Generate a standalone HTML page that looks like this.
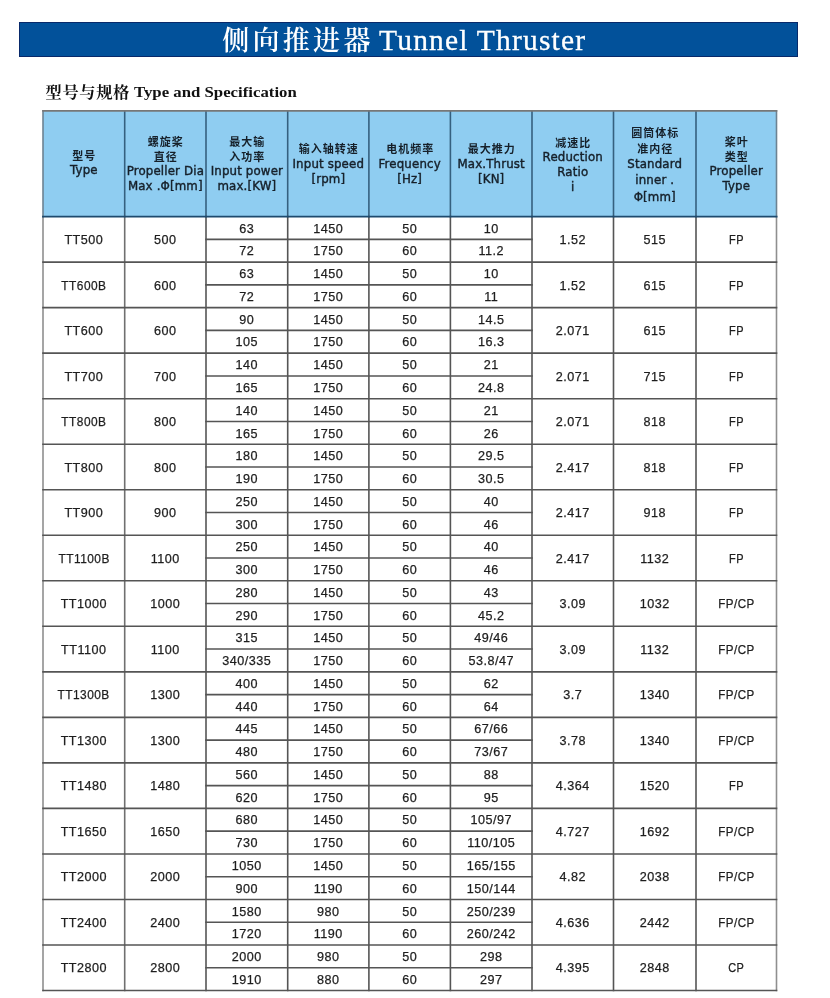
<!DOCTYPE html>
<html><head><meta charset="utf-8"><title>侧向推进器 Tunnel Thruster</title>
<style>
*{margin:0;padding:0;box-sizing:border-box}
html,body{width:830px;height:998px;overflow:hidden;background:#fff}
body{position:relative;font-family:"Liberation Sans","Noto Sans CJK SC",sans-serif;color:#1e1e1e}
.banner{position:absolute;left:18.5px;top:21.5px;width:779.6px;height:35.4px;background:#02519a;border:1.2px solid #08296a}
.t{position:absolute;white-space:nowrap;line-height:1}
.tc{left:222.2px;top:28.2px;color:#fff;font-family:"Liberation Serif","Noto Serif CJK SC",serif;font-weight:600;font-size:27px;letter-spacing:3.3px}
.tl{left:379px;top:25.5px;color:#fff;font-family:"Liberation Serif",serif;font-size:29.5px;letter-spacing:1.2px;-webkit-text-stroke:0.3px #fff}
.sc{left:45.5px;top:85px;color:#111;font-family:"Liberation Serif","Noto Serif CJK SC",serif;font-weight:700;font-size:16.2px;letter-spacing:0.7px}
.sl{left:134px;top:85.2px;color:#111;font-family:"Liberation Serif",serif;font-weight:700;font-size:15px;letter-spacing:0;transform:scaleX(1.118);transform-origin:0 0}
.hbg{position:absolute;background:#8fcdf1}
.c{position:absolute;display:flex;align-items:center;justify-content:center;text-align:center;white-space:nowrap;font-size:12.6px;letter-spacing:0.5px;line-height:14px;-webkit-text-stroke:0.25px #1e1e1e}
.h{position:absolute;display:flex;flex-direction:column;align-items:center;justify-content:center;text-align:center;white-space:nowrap;font-family:"DejaVu Sans","Noto Sans CJK SC",sans-serif;font-size:11.8px;letter-spacing:0.15px;color:#16202a;-webkit-text-stroke:0.4px #16202a}
.h span{display:block;height:15.2px;line-height:15.2px}
.h span.z{position:relative;top:1px;font-family:"Liberation Sans","Noto Sans CJK SC",sans-serif;font-size:11px;font-weight:700;letter-spacing:1px;text-indent:1px;-webkit-text-stroke:0}
.h.c8 span{height:16.2px;line-height:16.2px}
svg{position:absolute;left:0;top:0}
</style></head><body>
<div class="banner"></div>
<div class="t tc">侧向推进器</div>
<div class="t tl">Tunnel Thruster</div>
<div class="t sc">型号与规格</div>
<div class="t sl">Type and Specification</div>

<div class="hbg" style="left:43px;top:110.9px;width:733.5px;height:105.7px"></div>
<div class="h" style="left:43px;top:110.2px;width:81.7px;height:105.7px"><span class="z">型号</span><span class="">Type</span></div>
<div class="h" style="left:124.7px;top:111.4px;width:81.3px;height:105.7px"><span class="z">螺旋桨</span><span class="z">直径</span><span class="">Propeller Dia</span><span class="">Max .Φ[mm]</span></div>
<div class="h" style="left:206px;top:111.4px;width:81.7px;height:105.7px"><span class="z">最大输</span><span class="z">入功率</span><span class="">Input power</span><span class="">max.[KW]</span></div>
<div class="h" style="left:287.7px;top:111.4px;width:81.2px;height:105.7px"><span class="z">输入轴转速</span><span class="">Input speed</span><span class="">[rpm]</span></div>
<div class="h" style="left:368.9px;top:111.4px;width:81.5px;height:105.7px"><span class="z">电机频率</span><span class="">Frequency</span><span class="">[Hz]</span></div>
<div class="h" style="left:450.4px;top:111.4px;width:81.6px;height:105.7px"><span class="z">最大推力</span><span class="">Max.Thrust</span><span class="">[KN]</span></div>
<div class="h" style="left:532px;top:112.2px;width:81.5px;height:105.7px"><span class="z">减速比</span><span class="">Reduction</span><span class="">Ratio</span><span class="">i</span></div>
<div class="h c8" style="left:613.5px;top:111.4px;width:82.5px;height:105.7px"><span class="z">圆筒体标</span><span class="z">准内径</span><span class="">Standard</span><span class="">inner .</span><span class="">Φ[mm]</span></div>
<div class="h" style="left:696px;top:111.4px;width:80.5px;height:105.7px"><span class="z">桨叶</span><span class="z">类型</span><span class="">Propeller</span><span class="">Type</span></div>
<div class="c" style="left:43.0px;top:217.3px;width:81.7px;height:45.5px">TT500</div>
<div class="c" style="left:124.7px;top:217.3px;width:81.3px;height:45.5px">500</div>
<div class="c" style="left:206.0px;top:217.3px;width:81.7px;height:22.8px">63</div>
<div class="c" style="left:206.0px;top:240.1px;width:81.7px;height:22.8px">72</div>
<div class="c" style="left:287.7px;top:217.3px;width:81.2px;height:22.8px">1450</div>
<div class="c" style="left:287.7px;top:240.1px;width:81.2px;height:22.8px">1750</div>
<div class="c" style="left:368.9px;top:217.3px;width:81.5px;height:22.8px">50</div>
<div class="c" style="left:368.9px;top:240.1px;width:81.5px;height:22.8px">60</div>
<div class="c" style="left:450.4px;top:217.3px;width:81.6px;height:22.8px">10</div>
<div class="c" style="left:450.4px;top:240.1px;width:81.6px;height:22.8px">11.2</div>
<div class="c" style="left:532.0px;top:217.3px;width:81.5px;height:45.5px">1.52</div>
<div class="c" style="left:613.5px;top:217.3px;width:82.5px;height:45.5px">515</div>
<div class="c" style="left:696.0px;top:217.3px;width:80.5px;height:45.5px"><span style="display:inline-block;transform:scaleX(0.87)">FP</span></div>
<div class="c" style="left:43.0px;top:262.8px;width:81.7px;height:45.5px"><span style="display:inline-block;transform:scaleX(0.945)">TT600B</span></div>
<div class="c" style="left:124.7px;top:262.8px;width:81.3px;height:45.5px">600</div>
<div class="c" style="left:206.0px;top:262.8px;width:81.7px;height:22.8px">63</div>
<div class="c" style="left:206.0px;top:285.6px;width:81.7px;height:22.8px">72</div>
<div class="c" style="left:287.7px;top:262.8px;width:81.2px;height:22.8px">1450</div>
<div class="c" style="left:287.7px;top:285.6px;width:81.2px;height:22.8px">1750</div>
<div class="c" style="left:368.9px;top:262.8px;width:81.5px;height:22.8px">50</div>
<div class="c" style="left:368.9px;top:285.6px;width:81.5px;height:22.8px">60</div>
<div class="c" style="left:450.4px;top:262.8px;width:81.6px;height:22.8px">10</div>
<div class="c" style="left:450.4px;top:285.6px;width:81.6px;height:22.8px">11</div>
<div class="c" style="left:532.0px;top:262.8px;width:81.5px;height:45.5px">1.52</div>
<div class="c" style="left:613.5px;top:262.8px;width:82.5px;height:45.5px">615</div>
<div class="c" style="left:696.0px;top:262.8px;width:80.5px;height:45.5px"><span style="display:inline-block;transform:scaleX(0.87)">FP</span></div>
<div class="c" style="left:43.0px;top:308.3px;width:81.7px;height:45.5px">TT600</div>
<div class="c" style="left:124.7px;top:308.3px;width:81.3px;height:45.5px">600</div>
<div class="c" style="left:206.0px;top:308.3px;width:81.7px;height:22.8px">90</div>
<div class="c" style="left:206.0px;top:331.1px;width:81.7px;height:22.8px">105</div>
<div class="c" style="left:287.7px;top:308.3px;width:81.2px;height:22.8px">1450</div>
<div class="c" style="left:287.7px;top:331.1px;width:81.2px;height:22.8px">1750</div>
<div class="c" style="left:368.9px;top:308.3px;width:81.5px;height:22.8px">50</div>
<div class="c" style="left:368.9px;top:331.1px;width:81.5px;height:22.8px">60</div>
<div class="c" style="left:450.4px;top:308.3px;width:81.6px;height:22.8px">14.5</div>
<div class="c" style="left:450.4px;top:331.1px;width:81.6px;height:22.8px">16.3</div>
<div class="c" style="left:532.0px;top:308.3px;width:81.5px;height:45.5px">2.071</div>
<div class="c" style="left:613.5px;top:308.3px;width:82.5px;height:45.5px">615</div>
<div class="c" style="left:696.0px;top:308.3px;width:80.5px;height:45.5px"><span style="display:inline-block;transform:scaleX(0.87)">FP</span></div>
<div class="c" style="left:43.0px;top:353.9px;width:81.7px;height:45.5px">TT700</div>
<div class="c" style="left:124.7px;top:353.9px;width:81.3px;height:45.5px">700</div>
<div class="c" style="left:206.0px;top:353.9px;width:81.7px;height:22.8px">140</div>
<div class="c" style="left:206.0px;top:376.6px;width:81.7px;height:22.8px">165</div>
<div class="c" style="left:287.7px;top:353.9px;width:81.2px;height:22.8px">1450</div>
<div class="c" style="left:287.7px;top:376.6px;width:81.2px;height:22.8px">1750</div>
<div class="c" style="left:368.9px;top:353.9px;width:81.5px;height:22.8px">50</div>
<div class="c" style="left:368.9px;top:376.6px;width:81.5px;height:22.8px">60</div>
<div class="c" style="left:450.4px;top:353.9px;width:81.6px;height:22.8px">21</div>
<div class="c" style="left:450.4px;top:376.6px;width:81.6px;height:22.8px">24.8</div>
<div class="c" style="left:532.0px;top:353.9px;width:81.5px;height:45.5px">2.071</div>
<div class="c" style="left:613.5px;top:353.9px;width:82.5px;height:45.5px">715</div>
<div class="c" style="left:696.0px;top:353.9px;width:80.5px;height:45.5px"><span style="display:inline-block;transform:scaleX(0.87)">FP</span></div>
<div class="c" style="left:43.0px;top:399.4px;width:81.7px;height:45.5px"><span style="display:inline-block;transform:scaleX(0.945)">TT800B</span></div>
<div class="c" style="left:124.7px;top:399.4px;width:81.3px;height:45.5px">800</div>
<div class="c" style="left:206.0px;top:399.4px;width:81.7px;height:22.8px">140</div>
<div class="c" style="left:206.0px;top:422.2px;width:81.7px;height:22.8px">165</div>
<div class="c" style="left:287.7px;top:399.4px;width:81.2px;height:22.8px">1450</div>
<div class="c" style="left:287.7px;top:422.2px;width:81.2px;height:22.8px">1750</div>
<div class="c" style="left:368.9px;top:399.4px;width:81.5px;height:22.8px">50</div>
<div class="c" style="left:368.9px;top:422.2px;width:81.5px;height:22.8px">60</div>
<div class="c" style="left:450.4px;top:399.4px;width:81.6px;height:22.8px">21</div>
<div class="c" style="left:450.4px;top:422.2px;width:81.6px;height:22.8px">26</div>
<div class="c" style="left:532.0px;top:399.4px;width:81.5px;height:45.5px">2.071</div>
<div class="c" style="left:613.5px;top:399.4px;width:82.5px;height:45.5px">818</div>
<div class="c" style="left:696.0px;top:399.4px;width:80.5px;height:45.5px"><span style="display:inline-block;transform:scaleX(0.87)">FP</span></div>
<div class="c" style="left:43.0px;top:444.9px;width:81.7px;height:45.5px">TT800</div>
<div class="c" style="left:124.7px;top:444.9px;width:81.3px;height:45.5px">800</div>
<div class="c" style="left:206.0px;top:444.9px;width:81.7px;height:22.8px">180</div>
<div class="c" style="left:206.0px;top:467.7px;width:81.7px;height:22.8px">190</div>
<div class="c" style="left:287.7px;top:444.9px;width:81.2px;height:22.8px">1450</div>
<div class="c" style="left:287.7px;top:467.7px;width:81.2px;height:22.8px">1750</div>
<div class="c" style="left:368.9px;top:444.9px;width:81.5px;height:22.8px">50</div>
<div class="c" style="left:368.9px;top:467.7px;width:81.5px;height:22.8px">60</div>
<div class="c" style="left:450.4px;top:444.9px;width:81.6px;height:22.8px">29.5</div>
<div class="c" style="left:450.4px;top:467.7px;width:81.6px;height:22.8px">30.5</div>
<div class="c" style="left:532.0px;top:444.9px;width:81.5px;height:45.5px">2.417</div>
<div class="c" style="left:613.5px;top:444.9px;width:82.5px;height:45.5px">818</div>
<div class="c" style="left:696.0px;top:444.9px;width:80.5px;height:45.5px"><span style="display:inline-block;transform:scaleX(0.87)">FP</span></div>
<div class="c" style="left:43.0px;top:490.4px;width:81.7px;height:45.5px">TT900</div>
<div class="c" style="left:124.7px;top:490.4px;width:81.3px;height:45.5px">900</div>
<div class="c" style="left:206.0px;top:490.4px;width:81.7px;height:22.8px">250</div>
<div class="c" style="left:206.0px;top:513.2px;width:81.7px;height:22.8px">300</div>
<div class="c" style="left:287.7px;top:490.4px;width:81.2px;height:22.8px">1450</div>
<div class="c" style="left:287.7px;top:513.2px;width:81.2px;height:22.8px">1750</div>
<div class="c" style="left:368.9px;top:490.4px;width:81.5px;height:22.8px">50</div>
<div class="c" style="left:368.9px;top:513.2px;width:81.5px;height:22.8px">60</div>
<div class="c" style="left:450.4px;top:490.4px;width:81.6px;height:22.8px">40</div>
<div class="c" style="left:450.4px;top:513.2px;width:81.6px;height:22.8px">46</div>
<div class="c" style="left:532.0px;top:490.4px;width:81.5px;height:45.5px">2.417</div>
<div class="c" style="left:613.5px;top:490.4px;width:82.5px;height:45.5px">918</div>
<div class="c" style="left:696.0px;top:490.4px;width:80.5px;height:45.5px"><span style="display:inline-block;transform:scaleX(0.87)">FP</span></div>
<div class="c" style="left:43.0px;top:536.0px;width:81.7px;height:45.5px"><span style="display:inline-block;transform:scaleX(0.945)">TT1100B</span></div>
<div class="c" style="left:124.7px;top:536.0px;width:81.3px;height:45.5px">1100</div>
<div class="c" style="left:206.0px;top:536.0px;width:81.7px;height:22.8px">250</div>
<div class="c" style="left:206.0px;top:558.7px;width:81.7px;height:22.8px">300</div>
<div class="c" style="left:287.7px;top:536.0px;width:81.2px;height:22.8px">1450</div>
<div class="c" style="left:287.7px;top:558.7px;width:81.2px;height:22.8px">1750</div>
<div class="c" style="left:368.9px;top:536.0px;width:81.5px;height:22.8px">50</div>
<div class="c" style="left:368.9px;top:558.7px;width:81.5px;height:22.8px">60</div>
<div class="c" style="left:450.4px;top:536.0px;width:81.6px;height:22.8px">40</div>
<div class="c" style="left:450.4px;top:558.7px;width:81.6px;height:22.8px">46</div>
<div class="c" style="left:532.0px;top:536.0px;width:81.5px;height:45.5px">2.417</div>
<div class="c" style="left:613.5px;top:536.0px;width:82.5px;height:45.5px">1132</div>
<div class="c" style="left:696.0px;top:536.0px;width:80.5px;height:45.5px"><span style="display:inline-block;transform:scaleX(0.87)">FP</span></div>
<div class="c" style="left:43.0px;top:581.5px;width:81.7px;height:45.5px">TT1000</div>
<div class="c" style="left:124.7px;top:581.5px;width:81.3px;height:45.5px">1000</div>
<div class="c" style="left:206.0px;top:581.5px;width:81.7px;height:22.8px">280</div>
<div class="c" style="left:206.0px;top:604.2px;width:81.7px;height:22.8px">290</div>
<div class="c" style="left:287.7px;top:581.5px;width:81.2px;height:22.8px">1450</div>
<div class="c" style="left:287.7px;top:604.2px;width:81.2px;height:22.8px">1750</div>
<div class="c" style="left:368.9px;top:581.5px;width:81.5px;height:22.8px">50</div>
<div class="c" style="left:368.9px;top:604.2px;width:81.5px;height:22.8px">60</div>
<div class="c" style="left:450.4px;top:581.5px;width:81.6px;height:22.8px">43</div>
<div class="c" style="left:450.4px;top:604.2px;width:81.6px;height:22.8px">45.2</div>
<div class="c" style="left:532.0px;top:581.5px;width:81.5px;height:45.5px">3.09</div>
<div class="c" style="left:613.5px;top:581.5px;width:82.5px;height:45.5px">1032</div>
<div class="c" style="left:696.0px;top:581.5px;width:80.5px;height:45.5px"><span style="display:inline-block;transform:scaleX(0.92) translateX(0.8px)">FP/CP</span></div>
<div class="c" style="left:43.0px;top:627.0px;width:81.7px;height:45.5px">TT1100</div>
<div class="c" style="left:124.7px;top:627.0px;width:81.3px;height:45.5px">1100</div>
<div class="c" style="left:206.0px;top:627.0px;width:81.7px;height:22.8px">315</div>
<div class="c" style="left:206.0px;top:649.8px;width:81.7px;height:22.8px">340/335</div>
<div class="c" style="left:287.7px;top:627.0px;width:81.2px;height:22.8px">1450</div>
<div class="c" style="left:287.7px;top:649.8px;width:81.2px;height:22.8px">1750</div>
<div class="c" style="left:368.9px;top:627.0px;width:81.5px;height:22.8px">50</div>
<div class="c" style="left:368.9px;top:649.8px;width:81.5px;height:22.8px">60</div>
<div class="c" style="left:450.4px;top:627.0px;width:81.6px;height:22.8px">49/46</div>
<div class="c" style="left:450.4px;top:649.8px;width:81.6px;height:22.8px">53.8/47</div>
<div class="c" style="left:532.0px;top:627.0px;width:81.5px;height:45.5px">3.09</div>
<div class="c" style="left:613.5px;top:627.0px;width:82.5px;height:45.5px">1132</div>
<div class="c" style="left:696.0px;top:627.0px;width:80.5px;height:45.5px"><span style="display:inline-block;transform:scaleX(0.92) translateX(0.8px)">FP/CP</span></div>
<div class="c" style="left:43.0px;top:672.5px;width:81.7px;height:45.5px"><span style="display:inline-block;transform:scaleX(0.945)">TT1300B</span></div>
<div class="c" style="left:124.7px;top:672.5px;width:81.3px;height:45.5px">1300</div>
<div class="c" style="left:206.0px;top:672.5px;width:81.7px;height:22.8px">400</div>
<div class="c" style="left:206.0px;top:695.3px;width:81.7px;height:22.8px">440</div>
<div class="c" style="left:287.7px;top:672.5px;width:81.2px;height:22.8px">1450</div>
<div class="c" style="left:287.7px;top:695.3px;width:81.2px;height:22.8px">1750</div>
<div class="c" style="left:368.9px;top:672.5px;width:81.5px;height:22.8px">50</div>
<div class="c" style="left:368.9px;top:695.3px;width:81.5px;height:22.8px">60</div>
<div class="c" style="left:450.4px;top:672.5px;width:81.6px;height:22.8px">62</div>
<div class="c" style="left:450.4px;top:695.3px;width:81.6px;height:22.8px">64</div>
<div class="c" style="left:532.0px;top:672.5px;width:81.5px;height:45.5px">3.7</div>
<div class="c" style="left:613.5px;top:672.5px;width:82.5px;height:45.5px">1340</div>
<div class="c" style="left:696.0px;top:672.5px;width:80.5px;height:45.5px"><span style="display:inline-block;transform:scaleX(0.92) translateX(0.8px)">FP/CP</span></div>
<div class="c" style="left:43.0px;top:718.1px;width:81.7px;height:45.5px">TT1300</div>
<div class="c" style="left:124.7px;top:718.1px;width:81.3px;height:45.5px">1300</div>
<div class="c" style="left:206.0px;top:718.1px;width:81.7px;height:22.8px">445</div>
<div class="c" style="left:206.0px;top:740.8px;width:81.7px;height:22.8px">480</div>
<div class="c" style="left:287.7px;top:718.1px;width:81.2px;height:22.8px">1450</div>
<div class="c" style="left:287.7px;top:740.8px;width:81.2px;height:22.8px">1750</div>
<div class="c" style="left:368.9px;top:718.1px;width:81.5px;height:22.8px">50</div>
<div class="c" style="left:368.9px;top:740.8px;width:81.5px;height:22.8px">60</div>
<div class="c" style="left:450.4px;top:718.1px;width:81.6px;height:22.8px">67/66</div>
<div class="c" style="left:450.4px;top:740.8px;width:81.6px;height:22.8px">73/67</div>
<div class="c" style="left:532.0px;top:718.1px;width:81.5px;height:45.5px">3.78</div>
<div class="c" style="left:613.5px;top:718.1px;width:82.5px;height:45.5px">1340</div>
<div class="c" style="left:696.0px;top:718.1px;width:80.5px;height:45.5px"><span style="display:inline-block;transform:scaleX(0.92) translateX(0.8px)">FP/CP</span></div>
<div class="c" style="left:43.0px;top:763.6px;width:81.7px;height:45.5px">TT1480</div>
<div class="c" style="left:124.7px;top:763.6px;width:81.3px;height:45.5px">1480</div>
<div class="c" style="left:206.0px;top:763.6px;width:81.7px;height:22.8px">560</div>
<div class="c" style="left:206.0px;top:786.3px;width:81.7px;height:22.8px">620</div>
<div class="c" style="left:287.7px;top:763.6px;width:81.2px;height:22.8px">1450</div>
<div class="c" style="left:287.7px;top:786.3px;width:81.2px;height:22.8px">1750</div>
<div class="c" style="left:368.9px;top:763.6px;width:81.5px;height:22.8px">50</div>
<div class="c" style="left:368.9px;top:786.3px;width:81.5px;height:22.8px">60</div>
<div class="c" style="left:450.4px;top:763.6px;width:81.6px;height:22.8px">88</div>
<div class="c" style="left:450.4px;top:786.3px;width:81.6px;height:22.8px">95</div>
<div class="c" style="left:532.0px;top:763.6px;width:81.5px;height:45.5px">4.364</div>
<div class="c" style="left:613.5px;top:763.6px;width:82.5px;height:45.5px">1520</div>
<div class="c" style="left:696.0px;top:763.6px;width:80.5px;height:45.5px"><span style="display:inline-block;transform:scaleX(0.87)">FP</span></div>
<div class="c" style="left:43.0px;top:809.1px;width:81.7px;height:45.5px">TT1650</div>
<div class="c" style="left:124.7px;top:809.1px;width:81.3px;height:45.5px">1650</div>
<div class="c" style="left:206.0px;top:809.1px;width:81.7px;height:22.8px">680</div>
<div class="c" style="left:206.0px;top:831.9px;width:81.7px;height:22.8px">730</div>
<div class="c" style="left:287.7px;top:809.1px;width:81.2px;height:22.8px">1450</div>
<div class="c" style="left:287.7px;top:831.9px;width:81.2px;height:22.8px">1750</div>
<div class="c" style="left:368.9px;top:809.1px;width:81.5px;height:22.8px">50</div>
<div class="c" style="left:368.9px;top:831.9px;width:81.5px;height:22.8px">60</div>
<div class="c" style="left:450.4px;top:809.1px;width:81.6px;height:22.8px">105/97</div>
<div class="c" style="left:450.4px;top:831.9px;width:81.6px;height:22.8px">110/105</div>
<div class="c" style="left:532.0px;top:809.1px;width:81.5px;height:45.5px">4.727</div>
<div class="c" style="left:613.5px;top:809.1px;width:82.5px;height:45.5px">1692</div>
<div class="c" style="left:696.0px;top:809.1px;width:80.5px;height:45.5px"><span style="display:inline-block;transform:scaleX(0.92) translateX(0.8px)">FP/CP</span></div>
<div class="c" style="left:43.0px;top:854.6px;width:81.7px;height:45.5px">TT2000</div>
<div class="c" style="left:124.7px;top:854.6px;width:81.3px;height:45.5px">2000</div>
<div class="c" style="left:206.0px;top:854.6px;width:81.7px;height:22.8px">1050</div>
<div class="c" style="left:206.0px;top:877.4px;width:81.7px;height:22.8px">900</div>
<div class="c" style="left:287.7px;top:854.6px;width:81.2px;height:22.8px">1450</div>
<div class="c" style="left:287.7px;top:877.4px;width:81.2px;height:22.8px">1190</div>
<div class="c" style="left:368.9px;top:854.6px;width:81.5px;height:22.8px">50</div>
<div class="c" style="left:368.9px;top:877.4px;width:81.5px;height:22.8px">60</div>
<div class="c" style="left:450.4px;top:854.6px;width:81.6px;height:22.8px">165/155</div>
<div class="c" style="left:450.4px;top:877.4px;width:81.6px;height:22.8px">150/144</div>
<div class="c" style="left:532.0px;top:854.6px;width:81.5px;height:45.5px">4.82</div>
<div class="c" style="left:613.5px;top:854.6px;width:82.5px;height:45.5px">2038</div>
<div class="c" style="left:696.0px;top:854.6px;width:80.5px;height:45.5px"><span style="display:inline-block;transform:scaleX(0.92) translateX(0.8px)">FP/CP</span></div>
<div class="c" style="left:43.0px;top:900.2px;width:81.7px;height:45.5px">TT2400</div>
<div class="c" style="left:124.7px;top:900.2px;width:81.3px;height:45.5px">2400</div>
<div class="c" style="left:206.0px;top:900.2px;width:81.7px;height:22.8px">1580</div>
<div class="c" style="left:206.0px;top:922.9px;width:81.7px;height:22.8px">1720</div>
<div class="c" style="left:287.7px;top:900.2px;width:81.2px;height:22.8px">980</div>
<div class="c" style="left:287.7px;top:922.9px;width:81.2px;height:22.8px">1190</div>
<div class="c" style="left:368.9px;top:900.2px;width:81.5px;height:22.8px">50</div>
<div class="c" style="left:368.9px;top:922.9px;width:81.5px;height:22.8px">60</div>
<div class="c" style="left:450.4px;top:900.2px;width:81.6px;height:22.8px">250/239</div>
<div class="c" style="left:450.4px;top:922.9px;width:81.6px;height:22.8px">260/242</div>
<div class="c" style="left:532.0px;top:900.2px;width:81.5px;height:45.5px">4.636</div>
<div class="c" style="left:613.5px;top:900.2px;width:82.5px;height:45.5px">2442</div>
<div class="c" style="left:696.0px;top:900.2px;width:80.5px;height:45.5px"><span style="display:inline-block;transform:scaleX(0.92) translateX(0.8px)">FP/CP</span></div>
<div class="c" style="left:43.0px;top:945.7px;width:81.7px;height:45.5px">TT2800</div>
<div class="c" style="left:124.7px;top:945.7px;width:81.3px;height:45.5px">2800</div>
<div class="c" style="left:206.0px;top:945.7px;width:81.7px;height:22.8px">2000</div>
<div class="c" style="left:206.0px;top:968.4px;width:81.7px;height:22.8px">1910</div>
<div class="c" style="left:287.7px;top:945.7px;width:81.2px;height:22.8px">980</div>
<div class="c" style="left:287.7px;top:968.4px;width:81.2px;height:22.8px">880</div>
<div class="c" style="left:368.9px;top:945.7px;width:81.5px;height:22.8px">50</div>
<div class="c" style="left:368.9px;top:968.4px;width:81.5px;height:22.8px">60</div>
<div class="c" style="left:450.4px;top:945.7px;width:81.6px;height:22.8px">298</div>
<div class="c" style="left:450.4px;top:968.4px;width:81.6px;height:22.8px">297</div>
<div class="c" style="left:532.0px;top:945.7px;width:81.5px;height:45.5px">4.395</div>
<div class="c" style="left:613.5px;top:945.7px;width:82.5px;height:45.5px">2848</div>
<div class="c" style="left:696.0px;top:945.7px;width:80.5px;height:45.5px"><span style="display:inline-block;transform:scaleX(0.87)">CP</span></div>
<svg width="830" height="998" viewBox="0 0 830 998" stroke-linecap="square"><line x1="43" y1="110.9" x2="43" y2="216.6" stroke="#6d8292" stroke-width="1.6"/><line x1="43" y1="216.6" x2="43" y2="990.5" stroke="#8f8f8f" stroke-width="1.6"/><line x1="124.7" y1="110.9" x2="124.7" y2="216.6" stroke="#35607f" stroke-width="1.6"/><line x1="124.7" y1="216.6" x2="124.7" y2="990.5" stroke="#707070" stroke-width="1.6"/><line x1="206" y1="110.9" x2="206" y2="216.6" stroke="#35607f" stroke-width="1.6"/><line x1="206" y1="216.6" x2="206" y2="990.5" stroke="#555" stroke-width="1.6"/><line x1="287.7" y1="110.9" x2="287.7" y2="216.6" stroke="#35607f" stroke-width="1.6"/><line x1="287.7" y1="216.6" x2="287.7" y2="990.5" stroke="#555" stroke-width="1.6"/><line x1="368.9" y1="110.9" x2="368.9" y2="216.6" stroke="#35607f" stroke-width="1.6"/><line x1="368.9" y1="216.6" x2="368.9" y2="990.5" stroke="#555" stroke-width="1.6"/><line x1="450.4" y1="110.9" x2="450.4" y2="216.6" stroke="#35607f" stroke-width="1.6"/><line x1="450.4" y1="216.6" x2="450.4" y2="990.5" stroke="#555" stroke-width="1.6"/><line x1="532" y1="110.9" x2="532" y2="216.6" stroke="#35607f" stroke-width="1.6"/><line x1="532" y1="216.6" x2="532" y2="990.5" stroke="#555" stroke-width="1.6"/><line x1="613.5" y1="110.9" x2="613.5" y2="216.6" stroke="#35607f" stroke-width="1.6"/><line x1="613.5" y1="216.6" x2="613.5" y2="990.5" stroke="#555" stroke-width="1.6"/><line x1="696" y1="110.9" x2="696" y2="216.6" stroke="#35607f" stroke-width="1.6"/><line x1="696" y1="216.6" x2="696" y2="990.5" stroke="#555" stroke-width="1.6"/><line x1="776.5" y1="110.9" x2="776.5" y2="216.6" stroke="#6d8292" stroke-width="1.6"/><line x1="776.5" y1="216.6" x2="776.5" y2="990.5" stroke="#8f8f8f" stroke-width="1.6"/><line x1="43" y1="110.9" x2="776.5" y2="110.9" stroke="#777" stroke-width="1.6"/><line x1="43" y1="216.6" x2="776.5" y2="216.6" stroke="#1d4a6e" stroke-width="1.8"/><line x1="206" y1="239.36" x2="532" y2="239.36" stroke="#555" stroke-width="1.6"/><line x1="43" y1="262.12" x2="776.5" y2="262.12" stroke="#555" stroke-width="1.6"/><line x1="206" y1="284.89" x2="532" y2="284.89" stroke="#555" stroke-width="1.6"/><line x1="43" y1="307.65" x2="776.5" y2="307.65" stroke="#555" stroke-width="1.6"/><line x1="206" y1="330.41" x2="532" y2="330.41" stroke="#555" stroke-width="1.6"/><line x1="43" y1="353.17" x2="776.5" y2="353.17" stroke="#555" stroke-width="1.6"/><line x1="206" y1="375.93" x2="532" y2="375.93" stroke="#555" stroke-width="1.6"/><line x1="43" y1="398.69" x2="776.5" y2="398.69" stroke="#555" stroke-width="1.6"/><line x1="206" y1="421.46" x2="532" y2="421.46" stroke="#555" stroke-width="1.6"/><line x1="43" y1="444.22" x2="776.5" y2="444.22" stroke="#555" stroke-width="1.6"/><line x1="206" y1="466.98" x2="532" y2="466.98" stroke="#555" stroke-width="1.6"/><line x1="43" y1="489.74" x2="776.5" y2="489.74" stroke="#555" stroke-width="1.6"/><line x1="206" y1="512.50" x2="532" y2="512.50" stroke="#555" stroke-width="1.6"/><line x1="43" y1="535.26" x2="776.5" y2="535.26" stroke="#555" stroke-width="1.6"/><line x1="206" y1="558.03" x2="532" y2="558.03" stroke="#555" stroke-width="1.6"/><line x1="43" y1="580.79" x2="776.5" y2="580.79" stroke="#555" stroke-width="1.6"/><line x1="206" y1="603.55" x2="532" y2="603.55" stroke="#555" stroke-width="1.6"/><line x1="43" y1="626.31" x2="776.5" y2="626.31" stroke="#555" stroke-width="1.6"/><line x1="206" y1="649.07" x2="532" y2="649.07" stroke="#555" stroke-width="1.6"/><line x1="43" y1="671.84" x2="776.5" y2="671.84" stroke="#555" stroke-width="1.6"/><line x1="206" y1="694.60" x2="532" y2="694.60" stroke="#555" stroke-width="1.6"/><line x1="43" y1="717.36" x2="776.5" y2="717.36" stroke="#555" stroke-width="1.6"/><line x1="206" y1="740.12" x2="532" y2="740.12" stroke="#555" stroke-width="1.6"/><line x1="43" y1="762.88" x2="776.5" y2="762.88" stroke="#555" stroke-width="1.6"/><line x1="206" y1="785.64" x2="532" y2="785.64" stroke="#555" stroke-width="1.6"/><line x1="43" y1="808.41" x2="776.5" y2="808.41" stroke="#555" stroke-width="1.6"/><line x1="206" y1="831.17" x2="532" y2="831.17" stroke="#555" stroke-width="1.6"/><line x1="43" y1="853.93" x2="776.5" y2="853.93" stroke="#555" stroke-width="1.6"/><line x1="206" y1="876.69" x2="532" y2="876.69" stroke="#555" stroke-width="1.6"/><line x1="43" y1="899.45" x2="776.5" y2="899.45" stroke="#555" stroke-width="1.6"/><line x1="206" y1="922.21" x2="532" y2="922.21" stroke="#555" stroke-width="1.6"/><line x1="43" y1="944.98" x2="776.5" y2="944.98" stroke="#555" stroke-width="1.6"/><line x1="206" y1="967.74" x2="532" y2="967.74" stroke="#555" stroke-width="1.6"/><line x1="43" y1="990.50" x2="776.5" y2="990.50" stroke="#555" stroke-width="1.6"/></svg>
</body></html>
